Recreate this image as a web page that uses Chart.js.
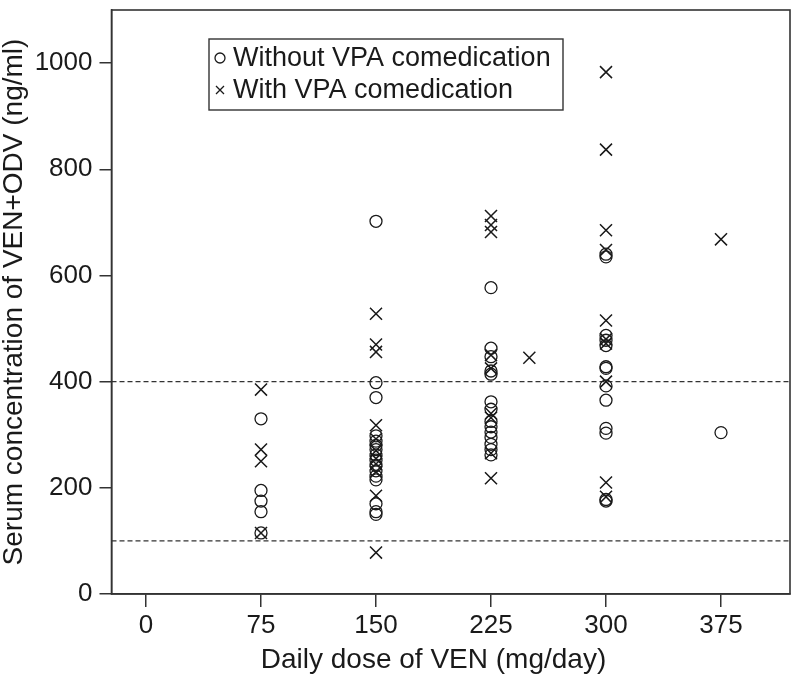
<!DOCTYPE html>
<html>
<head>
<meta charset="utf-8">
<script src="https://cdn.jsdelivr.net/npm/chart.js@4.4.0/dist/chart.umd.min.js"></script>
<style>
  html, body { margin: 0; padding: 0; background: #fff; }
</style>
</head>
<body>
<canvas id="chart" width="800" height="674"></canvas>
<script>
// dose groups (mg/day) and serum levels (ng/ml)
const doses = [75, 150, 225, 250, 300, 375];
const withoutVPA = [
  [330, 195, 175, 155, 115],
  [702, 398, 370, 298, 288, 280, 272, 262, 252, 242, 232, 222, 215, 170, 155, 150],
  [577, 463, 447, 420, 414, 362, 348, 325, 315, 305, 295, 282, 272, 262],
  [],
  [640, 635, 487, 478, 468, 428, 425, 392, 365, 312, 303, 178, 175],
  [304]
];
const withVPA = [
  [385, 272, 250, 115],
  [528, 470, 456, 318, 292, 270, 255, 245, 230, 185, 78],
  [712, 695, 682, 450, 425, 340, 332, 265, 218],
  [445],
  [983, 837, 685, 648, 515, 480, 472, 400, 210, 183],
  [668]
];
const xTicks = [0, 75, 150, 225, 300, 375];
const yTicks = [0, 200, 400, 600, 800, 1000];
const refLevels = [100, 400];
const seriesNames = ['Without VPA comedication', 'With VPA comedication'];
const xTitle = 'Daily dose of VEN (mg/day)';
const yTitle = 'Serum concentration of VEN+ODV (ng/ml)';

function toPoints(groups) {
  const pts = [];
  groups.forEach((vals, i) => {
    vals.forEach(v => pts.push({ x: doses[i], y: v }));
  });
  return pts;
}

const ink = '#1a1a1a';
const fontFamily = "'Liberation Sans', Arial, sans-serif";
Chart.defaults.font.family = fontFamily;
Chart.defaults.color = ink;

// frame, dashed reference lines, x title and the boxed legend
const extras = {
  id: 'extras',
  beforeDatasetsDraw(chart) {
    const { ctx, chartArea: a, scales } = chart;
    ctx.save();
    ctx.strokeStyle = '#333';
    ctx.lineWidth = 1.3;
    ctx.setLineDash([5, 3]);
    refLevels.forEach(v => {
      const y = scales.y.getPixelForValue(v);
      ctx.beginPath();
      ctx.moveTo(a.left, y);
      ctx.lineTo(a.right, y);
      ctx.stroke();
    });
    ctx.restore();
  },
  afterDraw(chart) {
    const { ctx, chartArea: a, scales } = chart;
    ctx.save();
    ctx.strokeStyle = '#333';
    ctx.lineWidth = 1.6;
    ctx.strokeRect(a.left, a.top, a.right - a.left, a.bottom - a.top);

    // x title, centred under the tick range
    const xMid = (scales.x.getPixelForValue(xTicks[0]) + scales.x.getPixelForValue(xTicks[xTicks.length - 1])) / 2;
    ctx.font = '28px ' + fontFamily;
    ctx.fillStyle = ink;
    ctx.textAlign = 'center';
    ctx.textBaseline = 'middle';
    ctx.fillText(xTitle, xMid, 660);

    // legend box
    const bx = a.left + 97.5, by = 39, bw = 354, bh = 71;
    ctx.lineWidth = 1.4;
    ctx.strokeRect(bx, by, bw, bh);
    ctx.font = '27px ' + fontFamily;
    ctx.textAlign = 'left';
    ctx.lineWidth = 1.3;
    ctx.strokeStyle = ink;
    const sx = bx + 11, rows = [by + 19, by + 51];
    ctx.beginPath();
    ctx.arc(sx, rows[0], 5, 0, Math.PI * 2);
    ctx.stroke();
    ctx.beginPath();
    ctx.moveTo(sx - 4, rows[1] - 4); ctx.lineTo(sx + 4, rows[1] + 4);
    ctx.moveTo(sx - 4, rows[1] + 4); ctx.lineTo(sx + 4, rows[1] - 4);
    ctx.stroke();
    ctx.fillText(seriesNames[0], bx + 24, rows[0] + 1);
    ctx.fillText(seriesNames[1], bx + 24, rows[1] + 1);
    ctx.restore();
  }
};

new Chart(document.getElementById('chart'), {
  type: 'scatter',
  data: {
    datasets: [
      {
        label: seriesNames[0],
        data: toPoints(withoutVPA),
        pointStyle: 'circle',
        pointRadius: 6,
        pointBorderWidth: 1.3,
        borderColor: ink,
        backgroundColor: 'rgba(0,0,0,0)'
      },
      {
        label: seriesNames[1],
        data: toPoints(withVPA),
        pointStyle: 'crossRot',
        pointRadius: 8.5,
        pointBorderWidth: 1.5,
        borderColor: ink,
        backgroundColor: 'rgba(0,0,0,0)'
      }
    ]
  },
  options: {
    responsive: false,
    animation: false,
    layout: { padding: { top: 2, right: 3, left: 0, bottom: 0 } },
    plugins: {
      legend: { display: false },
      tooltip: { enabled: false }
    },
    scales: {
      x: {
        type: 'linear',
        min: -22.5,
        max: 420,
        afterBuildTicks: s => { s.ticks = xTicks.map(v => ({ value: v })); },
        afterFit: s => { s.height = 80; s.paddingLeft = 0; s.paddingRight = 0; },
        grid: { drawOnChartArea: false, drawTicks: true, tickLength: 13, color: '#333', lineWidth: 1.5 },
        border: { display: true, color: '#333', width: 1.5 },
        ticks: { font: { size: 26 }, color: ink, padding: 3, maxRotation: 0, callback: v => String(v) },
        title: { display: false }
      },
      y: {
        min: 0,
        max: 1100,
        afterBuildTicks: s => { s.ticks = yTicks.map(v => ({ value: v })); },
        afterFit: s => { s.width = 111.5; s.paddingTop = 0; s.paddingBottom = 0; },
        grid: { drawOnChartArea: false, drawTicks: true, tickLength: 12, color: '#333', lineWidth: 1.5 },
        border: { display: true, color: '#333', width: 1.5 },
        ticks: { font: { size: 26 }, color: ink, padding: 7, callback: v => String(v) },
        title: { display: true, text: yTitle, font: { size: 28, lineHeight: 1 }, color: ink, padding: 0 }
      }
    }
  },
  plugins: [extras]
});
</script>
</body>
</html>
